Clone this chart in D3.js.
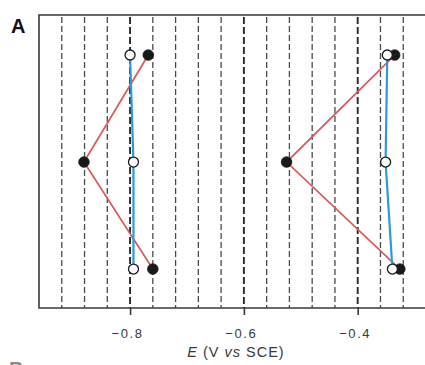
<!DOCTYPE html>
<html>
<head>
<meta charset="utf-8">
<script src="https://cdn.jsdelivr.net/npm/d3@7"></script>
<style>
  html, body { margin: 0; padding: 0; background: #fff; }
  svg { display: block; font-family: "Liberation Sans", Arial, sans-serif; }
</style>
</head>
<body>
<svg id="chart" width="425" height="365"></svg>
<script>
// potential step levels, top to bottom
const levels = [3, 2, 1];
// filled circles (red path) and open circles (blue path), V vs SCE
const leftFilled = [-0.768, -0.881, -0.760];
const leftOpen = [-0.800, -0.794, -0.794];
const rightFilled = [-0.335, -0.525, -0.326];
const rightOpen = [-0.348, -0.351, -0.339];
const gridValues = d3.range(16).map((i) => +(-0.92 + i * 0.04).toFixed(2));
const tickValues = [-0.8, -0.6, -0.4];

const svg = d3.select('#chart');

const x = d3.scaleLinear().domain([-0.96, -0.28]).range([39, 426]);
const y = d3.scaleLinear().domain([0.636, 3.374]).range([308, 15]);

// dashed guide lines
svg.append('g')
  .selectAll('line')
  .data(gridValues)
  .enter()
  .append('line')
  .attr('x1', (d) => x(d))
  .attr('x2', (d) => x(d))
  .attr('y1', y.range()[1] + 2)
  .attr('y2', y.range()[0])
  .attr('stroke', (d) => (tickValues.includes(d) ? '#2a2a2a' : '#4a4a4a'))
  .attr('stroke-width', (d) => (tickValues.includes(d) ? 1.9 : 1.3))
  .attr('stroke-dasharray', (d) => (tickValues.includes(d) ? '7,3' : '6,3'));

// frame (right side runs off the picture)
const frame = svg.append('g').attr('stroke', '#3a3a3a').attr('stroke-width', 1.6).attr('fill', 'none');
frame.append('path').attr('d', `M430,${y.range()[1]}H${x.range()[0]}V${y.range()[0]}H430`);

// x axis
const xAxis = d3.axisBottom(x).tickValues(tickValues).tickSize(7).tickFormat('');
const axisG = svg.append('g').attr('transform', `translate(0,${y.range()[0]})`).call(xAxis);
axisG.select('.domain').remove();
axisG.selectAll('.tick line').attr('stroke', '#3a3a3a').attr('stroke-width', 1.6);
axisG.selectAll('.tick')
  .append('text')
  .attr('x', 13)
  .attr('y', 30)
  .attr('text-anchor', 'end')
  .attr('fill', '#3a3a3a')
  .attr('font-size', 13)
  .attr('letter-spacing', 1.6)
  .text((d) => '\u2212' + d.toFixed(1).replace('-', ''));

const label = svg.append('text')
  .attr('x', 236)
  .attr('y', 357)
  .attr('text-anchor', 'middle')
  .attr('fill', '#3a3a3a')
  .attr('font-size', 14.5)
  .attr('letter-spacing', 1);
label.append('tspan').attr('font-style', 'italic').text('E');
label.append('tspan').text(' (V ');
label.append('tspan').attr('font-style', 'italic').text('vs');
label.append('tspan').text(' SCE)');

// panel letters
svg.append('text').attr('x', 11).attr('y', 33).attr('font-size', 20).attr('font-weight', 'bold').attr('fill', '#111').text('A');
svg.append('text').attr('x', 9).attr('y', 376).attr('font-size', 20).attr('font-weight', 'bold').attr('fill', '#888').text('B');

const series = [
  { values: leftFilled, kind: 'filled' },
  { values: rightFilled, kind: 'filled' },
  { values: leftOpen, kind: 'open' },
  { values: rightOpen, kind: 'open' },
];

const line = d3.line().x((d) => x(d[0])).y((d) => y(d[1]));

const paths = svg.append('g').attr('fill', 'none');
series.forEach((s) => {
  const pts = s.values.map((v, i) => [v, levels[i]]);
  paths.append('path')
    .attr('d', line(pts))
    .attr('stroke', s.kind === 'filled' ? '#d95a5a' : '#2f9ad6')
    .attr('stroke-width', s.kind === 'filled' ? 1.7 : 2.2);
});

// filled markers below open markers
['filled', 'open'].forEach((kind) => {
  series.filter((s) => s.kind === kind).forEach((s) => {
    svg.append('g')
      .selectAll('circle')
      .data(s.values.map((v, i) => [v, levels[i]]))
      .enter()
      .append('circle')
      .attr('cx', (d) => x(d[0]))
      .attr('cy', (d) => y(d[1]))
      .attr('r', kind === 'filled' ? 5.3 : 5)
      .attr('fill', kind === 'filled' ? '#1a1a1a' : '#fff')
      .attr('stroke', '#1a1a1a')
      .attr('stroke-width', kind === 'filled' ? 0.8 : 1.3);
  });
});
</script>
</body>
</html>
